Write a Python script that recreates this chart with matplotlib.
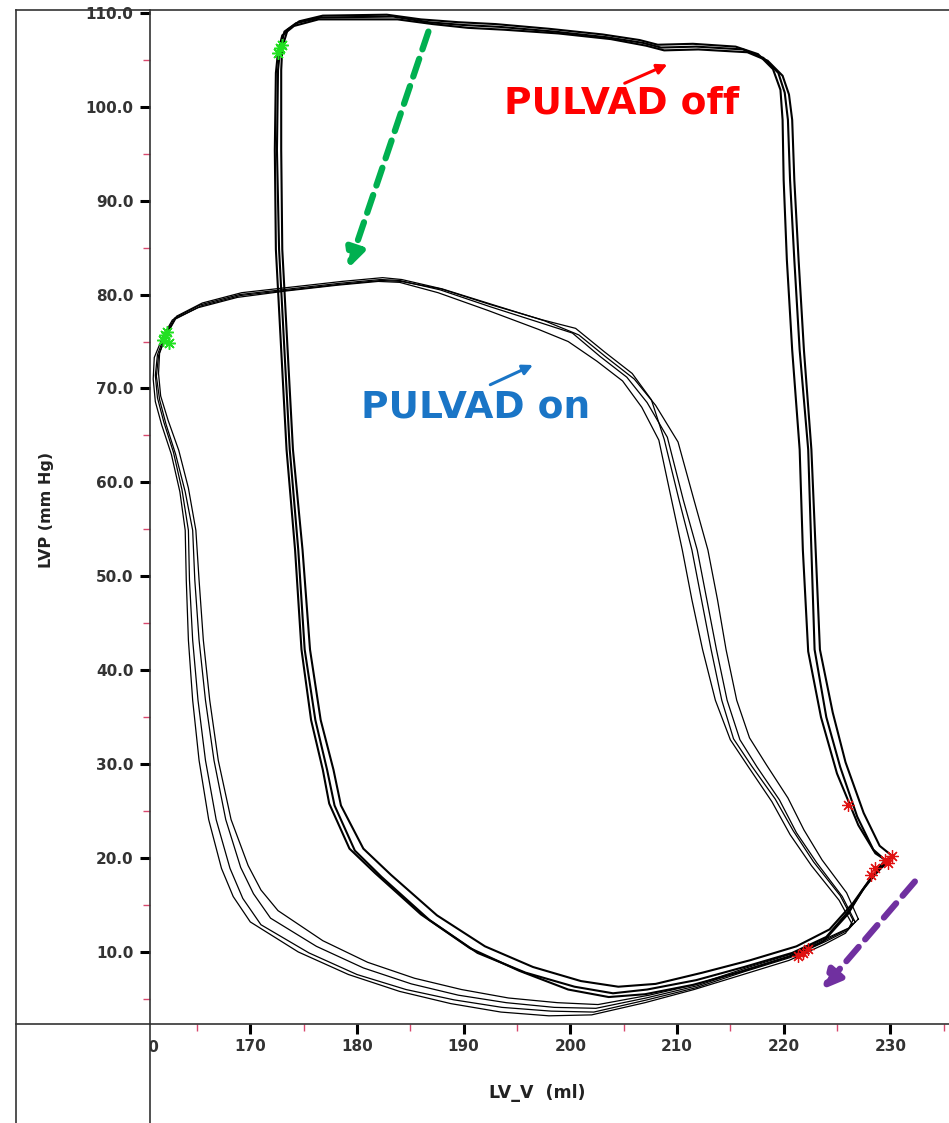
import matplotlib
matplotlib.use('Agg')
import matplotlib.pyplot as plt
from matplotlib.lines import Line2D
from matplotlib.ticker import FixedLocator, FormatStrFormatter
from matplotlib.transforms import Bbox, TransformedBbox

TICK_FONT_SIZE = 11
LABEL_FONT_SIZE = 11.5
NOTE_FONT_SIZE = 27
FRAME_COLOR = '#333333'
MINOR_COLOR = '#d8486e'

# pressure-volume loops, PULVAD off (volume ml, pressure mmHg), one list per beat
OFF_V = [
    [229.5, 228.4, 226.9, 225.3, 224.0, 222.9, 222.6, 222.3, 221.5, 221.0, 220.6, 220.4, 220.1, 219.5, 218.1,
     216.2, 211.8, 208.5, 206.8, 203.4, 198.5, 193.4, 190.0, 186.7, 183.4, 176.6, 174.3, 173.2, 172.8, 172.6,
     172.5, 172.7, 173.2, 173.7, 174.5, 175.1, 176.1, 177.2, 177.9, 179.8, 182.3, 186.8, 191.3, 195.8, 200.4,
     204.0, 207.2, 211.8, 216.3, 220.8, 224.0, 226.2, 227.6, 228.9, 229.5],
    [229.8, 228.6, 227.0, 225.0, 223.5, 222.3, 221.8, 221.5, 220.8, 220.3, 220.0, 219.9, 219.7, 219.0, 217.6,
     215.5, 211.5, 208.2, 206.5, 203.0, 198.0, 193.0, 189.5, 186.0, 182.8, 176.8, 174.6, 173.5, 173.0, 172.9,
     172.9, 173.0, 173.5, 174.0, 174.9, 175.6, 176.6, 177.8, 178.5, 180.6, 183.2, 187.5, 192.0, 196.5, 201.0,
     204.5, 208.0, 212.4, 216.8, 221.2, 224.3, 226.5, 228.0, 229.2, 229.8],
    [230.2, 229.0, 227.5, 225.8, 224.6, 223.4, 223.0, 222.6, 221.9, 221.4, 221.0, 220.8, 220.5, 219.9, 218.5,
     216.6, 212.0, 208.8, 207.1, 203.8, 198.9, 193.8, 190.4, 187.1, 183.8, 176.4, 174.1, 173.0, 172.6, 172.4,
     172.3, 172.4, 172.9, 173.4, 174.2, 174.8, 175.7, 176.8, 177.4, 179.3, 181.7, 186.0, 190.6, 195.2, 199.8,
     203.6, 207.0, 211.5, 216.0, 220.5, 223.7, 226.0, 227.4, 228.8, 230.2],
]
OFF_P = [
    [19.8, 20.9, 24.4, 29.7, 35.0, 42.2, 52.8, 63.5, 74.1, 83.7, 92.2, 98.6, 101.5, 103.6, 105.2,
     106.1, 106.4, 106.3, 106.8, 107.4, 108.0, 108.5, 108.7, 109.0, 109.6, 109.5, 108.9, 108.0, 106.1, 103.9,
     95.4, 84.8, 74.1, 63.5, 52.8, 42.2, 34.7, 29.4, 25.6, 20.8, 18.0, 13.4, 9.9, 7.8, 6.3,
     5.6, 6.0, 7.0, 8.4, 9.9, 11.6, 14.5, 16.9, 18.9, 19.8],
    [19.6, 20.5, 23.5, 29.0, 35.0, 42.0, 52.8, 63.5, 74.1, 83.7, 92.2, 98.6, 101.8, 104.0, 105.6,
     106.4, 106.7, 106.6, 107.1, 107.7, 108.3, 108.8, 109.0, 109.3, 109.8, 109.7, 109.1, 108.2, 106.3, 103.9,
     95.4, 84.8, 74.1, 63.5, 52.8, 42.2, 34.7, 29.4, 25.6, 21.0, 18.2, 13.9, 10.6, 8.4, 6.9,
     6.3, 6.6, 7.8, 9.1, 10.6, 12.4, 15.2, 17.6, 19.0, 19.6],
    [20.2, 21.3, 24.8, 30.2, 35.5, 42.2, 52.8, 63.5, 74.1, 83.7, 92.2, 98.6, 101.3, 103.3, 104.9,
     105.8, 106.1, 106.0, 106.5, 107.2, 107.8, 108.2, 108.4, 108.8, 109.3, 109.3, 108.6, 107.6, 105.8, 103.6,
     95.4, 84.8, 74.1, 63.5, 52.8, 42.2, 34.7, 29.4, 25.8, 21.0, 18.4, 14.0, 10.4, 8.0, 6.0,
     5.2, 5.5, 6.5, 7.9, 9.5, 11.1, 14.0, 16.6, 18.6, 20.2],
]

# pressure-volume loops, PULVAD on
ON_V = [
    [226.7, 225.5, 223.1, 221.2, 219.6, 217.5, 215.9, 214.7, 213.7, 212.8, 211.9, 210.6, 209.1, 207.2, 205.3,
     202.8, 200.2, 197.2, 192.5, 187.8, 184.0, 182.2, 178.4, 173.7, 169.0, 165.3, 162.9, 162.0, 161.3, 161.1,
     161.3, 161.9, 162.8, 163.6, 164.2, 164.3, 164.6, 165.1, 165.8, 166.8, 168.1, 169.3, 171.0, 175.5, 180.0,
     184.6, 189.1, 193.6, 198.2, 202.2, 207.2, 211.8, 216.3, 220.6, 223.9, 226.0, 226.7],
    [226.4, 225.2, 222.6, 220.6, 218.9, 216.7, 215.0, 213.6, 212.4, 211.4, 210.5, 209.5, 208.3, 206.7, 204.9,
     202.5, 199.8, 197.0, 192.3, 187.6, 184.0, 182.0, 178.2, 173.5, 168.8, 165.1, 162.7, 161.8, 161.0, 160.9,
     161.1, 161.7, 162.6, 163.4, 163.9, 164.0, 164.2, 164.6, 165.2, 166.1, 167.3, 168.4, 170.0, 174.5, 179.2,
     184.0, 188.8, 193.5, 198.0, 202.0, 207.0, 211.6, 216.2, 220.5, 223.8, 225.8, 226.4],
    [227.0, 225.9, 223.6, 221.9, 220.4, 218.4, 216.8, 215.6, 214.6, 213.8, 212.9, 211.6, 210.1, 208.0, 206.0,
     203.4, 200.8, 197.6, 192.8, 188.0, 184.2, 182.4, 178.6, 173.9, 169.2, 165.5, 163.1, 162.2, 161.5, 161.4,
     161.6, 162.3, 163.3, 164.2, 164.9, 165.2, 165.6, 166.2, 167.0, 168.2, 169.8, 171.0, 172.6, 176.8, 181.0,
     185.4, 189.8, 194.2, 198.8, 202.6, 207.4, 212.0, 216.5, 220.8, 224.1, 226.2, 227.0],
    [226.5, 225.3, 222.8, 220.9, 219.2, 217.0, 215.3, 214.2, 213.2, 212.3, 211.4, 210.2, 208.8, 207.6, 205.8,
     203.2, 200.5, 197.4, 192.6, 187.9, 184.1, 182.3, 178.5, 173.8, 169.1, 165.4, 163.0, 162.1, 161.4, 161.2,
     161.5, 162.1, 163.0, 163.9, 164.6, 164.8, 165.2, 165.8, 166.6, 167.7, 169.1, 170.3, 171.9, 176.2, 180.6,
     185.1, 189.5, 194.0, 198.5, 202.4, 207.1, 211.9, 216.4, 220.7, 224.0, 226.1, 226.5],
]
ON_P = [
    [13.2, 15.9, 19.5, 22.7, 26.2, 29.7, 32.6, 36.8, 42.2, 47.5, 52.8, 58.1, 64.8, 68.5, 71.2,
     73.4, 75.9, 77.0, 78.7, 80.5, 81.5, 81.6, 81.2, 80.6, 80.0, 78.9, 77.5, 75.7, 73.6, 71.4,
     69.0, 66.4, 63.2, 59.2, 54.9, 49.6, 43.2, 36.8, 30.4, 24.1, 18.9, 15.7, 12.9, 9.9, 7.6,
     6.0, 4.9, 4.1, 3.7, 3.6, 4.9, 6.2, 7.9, 9.4, 11.1, 12.3, 13.2],
    [13.0, 15.5, 19.2, 22.5, 26.0, 29.7, 32.6, 36.8, 42.2, 47.5, 52.8, 58.1, 64.5, 68.0, 70.8,
     72.9, 75.0, 76.3, 78.3, 80.2, 81.3, 81.4, 81.0, 80.4, 79.7, 78.6, 77.3, 75.5, 73.3, 71.0,
     68.6, 66.1, 63.0, 59.0, 54.9, 49.6, 43.2, 36.8, 30.4, 24.1, 18.9, 15.9, 13.2, 10.0, 7.6,
     5.8, 4.5, 3.6, 3.2, 3.3, 4.6, 6.0, 7.6, 9.1, 10.8, 12.0, 13.0],
    [13.5, 16.3, 19.8, 23.0, 26.4, 29.9, 32.8, 36.8, 42.2, 47.5, 52.8, 58.1, 64.3, 68.2, 71.0,
     73.3, 75.7, 77.2, 78.9, 80.6, 81.6, 81.8, 81.4, 80.8, 80.2, 79.1, 77.7, 75.9, 73.8, 71.6,
     69.2, 66.6, 63.4, 59.4, 54.9, 49.6, 43.2, 36.8, 30.4, 24.1, 19.2, 16.6, 14.4, 11.2, 8.9,
     7.2, 6.0, 5.1, 4.6, 4.4, 5.4, 6.6, 8.3, 9.8, 11.5, 12.6, 13.5],
    [13.4, 16.0, 19.6, 22.9, 26.3, 29.8, 32.7, 36.8, 42.2, 47.5, 52.8, 58.1, 64.6, 68.8, 71.6,
     73.9, 76.4, 77.3, 78.9, 80.6, 81.4, 81.5, 81.1, 80.5, 79.9, 78.8, 77.4, 75.6, 73.5, 71.3,
     68.8, 66.2, 63.0, 59.0, 54.9, 49.6, 43.2, 36.8, 30.4, 24.1, 19.0, 16.2, 13.6, 10.6, 8.3,
     6.6, 5.4, 4.6, 4.1, 4.0, 5.1, 6.4, 8.1, 9.6, 11.3, 12.5, 13.4],
]

# end-systolic (green) and end-diastolic (red) markers
ES_V = [172.8, 173.0, 172.6, 162.0, 161.8, 162.2, 162.4]
ES_P = [106.2, 106.6, 105.7, 75.7, 75.2, 76.0, 74.8]
ED_V = [229.5, 229.8, 230.2, 228.6, 228.2, 221.3, 221.8, 222.3, 226.0]
ED_P = [19.8, 19.5, 20.2, 18.9, 18.2, 9.6, 9.9, 10.3, 25.7]

X_MAJOR = [160, 170, 180, 190, 200, 210, 220, 230]
X_MINOR = [165, 175, 185, 195, 205, 215, 225, 235]
Y_MAJOR = [10, 20, 30, 40, 50, 60, 70, 80, 90, 100, 110]
Y_MINOR = [5, 15, 25, 35, 45, 55, 65, 75, 85, 95, 105]

X_LABEL = 'LV_V  (ml)'
Y_LABEL = 'LVP (mm Hg)'

NOTE_OFF = ('PULVAD off', 204.8, 100.3)
NOTE_ON = ('PULVAD on', 191.1, 68.0)
ARROW_OFF = ((205.1, 102.5), (209.1, 104.5))
ARROW_ON = ((192.5, 70.4), (196.5, 72.5))
ARROW_GREEN = ((186.7, 108.0), (179.2, 82.8))
ARROW_PURPLE = ((232.3, 17.5), (223.6, 6.0))


def DrawFigure():
    fig = plt.figure(figsize=(9.49, 11.23), dpi=100)
    ax = fig.add_axes([0.15806, 0.08816, 0.84194, 0.90294])

    for v, p in zip(OFF_V, OFF_P):
        ax.plot(v, p, color='black', lw=1.5, solid_joinstyle='round')
    for v, p in zip(ON_V, ON_P):
        ax.plot(v, p, color='black', lw=0.9, solid_joinstyle='round')

    ax.plot(ES_V, ES_P, ls='none', marker=(8, 2, 0), ms=9, mew=1.1, color='#22e022')
    ax.plot(ED_V, ED_P, ls='none', marker=(8, 2, 0), ms=9, mew=0.9, color='#e01010')

    # dashed arrows
    ax.annotate('', xy=ARROW_GREEN[1], xytext=ARROW_GREEN[0],
                arrowprops=dict(arrowstyle='-|>,head_length=1.1,head_width=0.55', lw=4.5,
                                ls=(0, (3, 1.6)), color='#00b050', shrinkA=0, shrinkB=0))
    ax.annotate('', xy=ARROW_PURPLE[1], xytext=ARROW_PURPLE[0],
                arrowprops=dict(arrowstyle='-|>,head_length=1.1,head_width=0.55', lw=4.5,
                                ls=(0, (3, 1.6)), color='#7030a0', shrinkA=0, shrinkB=0))

    # labels with small arrows
    ax.annotate('', xy=ARROW_OFF[1], xytext=ARROW_OFF[0],
                arrowprops=dict(arrowstyle='-|>,head_length=0.6,head_width=0.3', lw=2.2,
                                color='#ff0000', shrinkA=0, shrinkB=0))
    ax.annotate('', xy=ARROW_ON[1], xytext=ARROW_ON[0],
                arrowprops=dict(arrowstyle='-|>,head_length=0.6,head_width=0.3', lw=2.2,
                                color='#1a75c6', shrinkA=0, shrinkB=0))
    ax.text(NOTE_OFF[1], NOTE_OFF[2], NOTE_OFF[0], color='#ff0000', fontsize=NOTE_FONT_SIZE,
            fontweight='bold', ha='center', va='center')
    ax.text(NOTE_ON[1], NOTE_ON[2], NOTE_ON[0], color='#1a75c6', fontsize=NOTE_FONT_SIZE,
            fontweight='bold', ha='center', va='center')

    ax.set_xlim(160.6, 235.5)
    ax.set_ylim(2.33, 110.3)

    for s in ['top', 'right']:
        ax.spines[s].set_visible(False)
    for s in ['left', 'bottom']:
        ax.spines[s].set_color(FRAME_COLOR)
        ax.spines[s].set_linewidth(1.2)

    ax.xaxis.set_major_locator(FixedLocator(X_MAJOR))
    ax.xaxis.set_minor_locator(FixedLocator(X_MINOR))
    ax.yaxis.set_major_locator(FixedLocator(Y_MAJOR))
    ax.yaxis.set_minor_locator(FixedLocator(Y_MINOR))
    ax.yaxis.set_major_formatter(FormatStrFormatter('%.1f'))
    ax.tick_params(which='major', direction='out', length=7, width=2.2, color='black',
                   labelsize=TICK_FONT_SIZE, labelcolor='#333333')
    ax.tick_params(axis='y', which='major', pad=5)
    ax.tick_params(axis='x', which='major', pad=4)
    ax.tick_params(which='minor', direction='out', length=5, width=1.0, color=MINOR_COLOR)
    for lab in ax.get_xticklabels() + ax.get_yticklabels():
        lab.set_fontweight('bold')

    # left part of the 160 label is hidden behind the y axis
    hidden = fig.text(143 / 949, 1 - 1047 / 1123, str(X_MAJOR[0]), ha='center', va='center',
                      fontsize=TICK_FONT_SIZE, fontweight='bold', color='#333333')
    hidden.set_clip_box(TransformedBbox(Bbox([[0.1585, 0], [1, 1]]), fig.transFigure))
    hidden.set_clip_on(True)

    fig.text(47 / 949, 1 - 510 / 1123, Y_LABEL, rotation=90, ha='center', va='center',
             fontsize=LABEL_FONT_SIZE, fontweight='bold', color='#222222')
    fig.text(537 / 949, 1 - 1093 / 1123, X_LABEL, ha='center', va='center',
             fontsize=LABEL_FONT_SIZE + 1, fontweight='bold', color='#222222')

    # outer frame and axis line extensions
    x0, y0 = 16 / 949, 1 - 10 / 1123
    xa, ya = 150 / 949, 1 - 1024 / 1123
    for xs, ys in [([x0, 1], [y0, y0]), ([x0, x0], [0, y0]), ([x0, xa], [ya, ya]), ([xa, xa], [0, ya])]:
        fig.add_artist(Line2D(xs, ys, transform=fig.transFigure, color=FRAME_COLOR, lw=1.2))

    fig.savefig('out.png', dpi=100)


if __name__ == "__main__":
    DrawFigure()
